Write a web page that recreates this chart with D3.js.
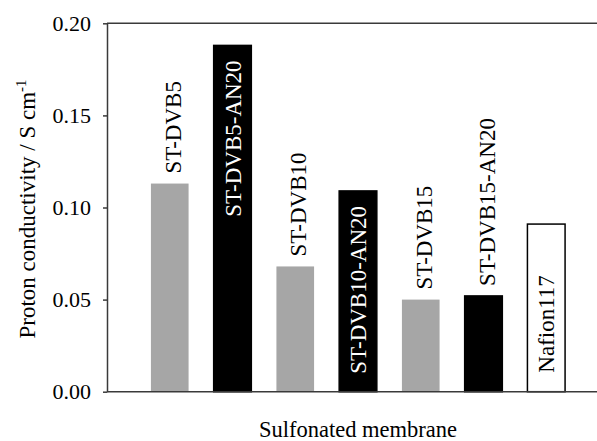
<!DOCTYPE html>
<html>
<head>
<meta charset="utf-8">
<script src="https://cdn.jsdelivr.net/npm/d3@7"></script>
<style>
  html, body { margin: 0; padding: 0; background: #fff; }
  svg { display: block; }
</style>
</head>
<body>
<svg id="chart" width="597" height="441" font-family="Liberation Serif"></svg>
<script>
// Proton conductivity of sulfonated membranes
const membranes = ["ST-DVB5", "ST-DVB5-AN20", "ST-DVB10", "ST-DVB10-AN20",
                   "ST-DVB15", "ST-DVB15-AN20", "Nafion117"];
const conductivity = [0.113, 0.188, 0.068, 0.109, 0.050, 0.052, 0.091];
const membraneType = ["ST-DVB", "AN20", "ST-DVB", "AN20", "ST-DVB", "AN20", "Nafion"];
const yTicks = [0.00, 0.05, 0.10, 0.15, 0.20];

const FONT = "Liberation Serif";

const data = membranes.map((name, i) => ({
  name, value: conductivity[i], type: membraneType[i]
}));

const svg = d3.select("#chart");
const plotLeft = 107, plotRight = 609, plotTop = 23.3, plotBottom = 391.7;

const x = d3.scaleBand()
  .domain(membranes)
  .range([plotLeft, plotRight])
  .paddingInner(0.4)
  .paddingOuter(0.7);

const y = d3.scaleLinear()
  .domain([0, 0.20])
  .range([plotBottom, plotTop]);

const fill = d3.scaleOrdinal()
  .domain(["ST-DVB", "AN20", "Nafion"])
  .range(["#a6a6a6", "#000000", "#ffffff"]);

// frame line along the top of the plot
svg.append("line")
  .attr("x1", plotLeft).attr("x2", 597)
  .attr("y1", y(0.20)).attr("y2", y(0.20))
  .attr("stroke", "#3a3a3a").attr("stroke-width", 1.5);

// bars
svg.append("g").selectAll("rect")
  .data(data)
  .join("rect")
  .attr("x", d => x(d.name))
  .attr("width", x.bandwidth())
  .attr("y", d => y(d.value))
  .attr("height", d => y(0) - y(d.value))
  .attr("fill", d => fill(d.type))
  .attr("stroke", d => d.type === "ST-DVB" ? "none" : "#000")
  .attr("stroke-width", 1.5);

// y axis
const yAxis = svg.append("g")
  .attr("transform", `translate(${plotLeft},0)`)
  .call(d3.axisLeft(y)
    .tickValues(yTicks)
    .tickFormat(d3.format(".2f"))
    .tickSize(4)
    .tickPadding(12)
    .tickSizeOuter(0))
  .attr("font-family", FONT)
  .attr("font-size", 22);
yAxis.select(".domain").attr("stroke", "#3a3a3a").attr("stroke-width", 1.5);
yAxis.selectAll(".tick line").attr("stroke", "#3a3a3a").attr("stroke-width", 1.5);
yAxis.selectAll(".tick text").attr("fill", "#000");

// x baseline
svg.append("line")
  .attr("x1", plotLeft).attr("x2", 597)
  .attr("y1", y(0)).attr("y2", y(0))
  .attr("stroke", "#3a3a3a").attr("stroke-width", 1.5);

// bar labels, written vertically
function placement(d) {
  if (d.type === "Nafion") return "inside-bottom";
  if (d.type === "AN20" && d.value >= 0.1) return "inside-top";
  return "above";
}

svg.append("g").selectAll("text")
  .data(data)
  .join("text")
  .attr("font-family", FONT)
  .attr("font-size", 23)
  .attr("dy", "0.35em")
  .attr("fill", d => placement(d) === "inside-top" ? "#fff" : "#000")
  .attr("text-anchor", d => placement(d) === "inside-top" ? "end" : "start")
  .attr("transform", d => {
    const cx = x(d.name) + x.bandwidth() / 2;
    const p = placement(d);
    if (p === "above") return `translate(${cx + 3},${y(d.value) - 10}) rotate(-90)`;
    if (p === "inside-top") return `translate(${cx},${y(d.value) + 15}) rotate(-90)`;
    return `translate(${cx},${y(0) - 19}) rotate(-90)`;
  })
  .text(d => d.name);

// axis titles
const yTitle = svg.append("text")
  .attr("transform", `translate(35,${(78 + 340) / 2}) rotate(-90)`)
  .attr("text-anchor", "middle")
  .attr("font-family", FONT)
  .attr("font-size", 23)
  .attr("fill", "#000");
yTitle.append("tspan").text("Proton conductivity / S cm");
yTitle.append("tspan").attr("font-size", 15).attr("dy", "-0.6em").text("-1");

svg.append("text")
  .attr("x", (plotLeft + plotRight) / 2)
  .attr("y", 437)
  .attr("text-anchor", "middle")
  .attr("font-family", FONT)
  .attr("font-size", 22.5)
  .attr("fill", "#000")
  .text("Sulfonated membrane");
</script>
</body>
</html>
